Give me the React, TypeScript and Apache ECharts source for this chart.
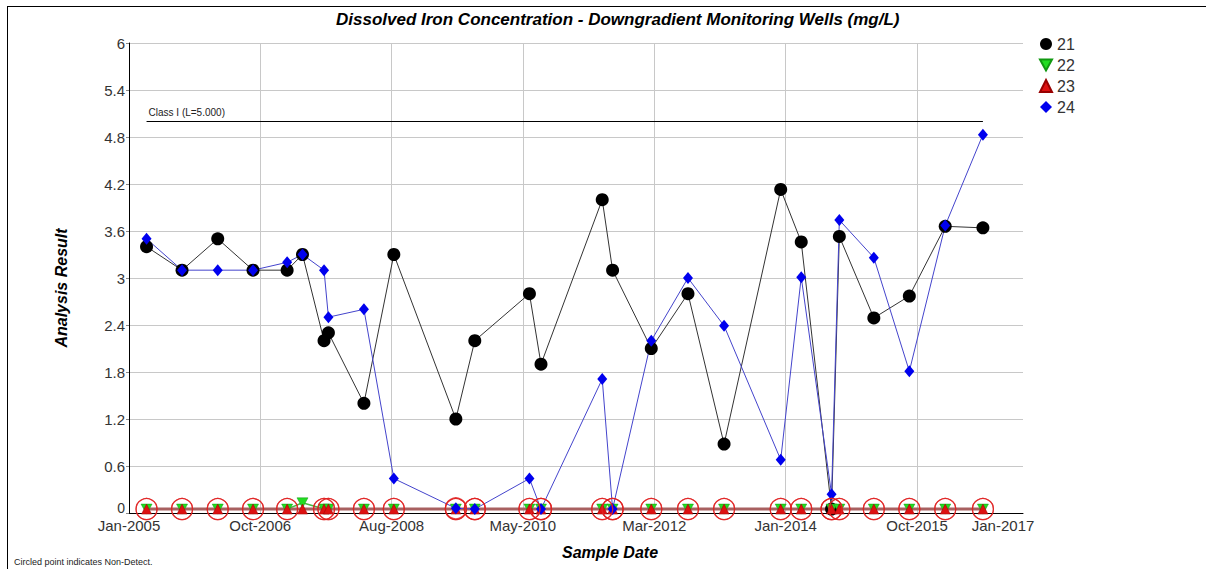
import React, { useEffect, useRef } from "react";
import * as echarts from "echarts";

// ---- data ----
const sampleDates = [
  "2005-03-30", "2005-09-24", "2006-03-22", "2006-09-15", "2007-03-05", "2007-05-21",
  "2007-09-06", "2007-09-28", "2008-03-24", "2008-08-21", "2009-06-28", "2009-10-01",
  "2010-07-02", "2010-08-29", "2011-07-02", "2011-08-23", "2012-03-04", "2012-09-04",
  "2013-03-04", "2013-12-13", "2014-03-26", "2014-08-25", "2014-10-03", "2015-03-25",
  "2015-09-19", "2016-03-17", "2016-09-22",
];

const well21 = [3.4, 3.1, 3.5, 3.1, 3.1, 3.3, 2.2, 2.3, 1.4, 3.3, 1.2, 2.2, 2.8, 1.9, 4.0, 3.1, 2.1, 2.8, 0.88, 4.13, 3.46, 0.05, 3.53, 2.49, 2.77, 3.66, 3.64];
const nd21 = [0, 0, 0, 0, 0, 0, 0, 0, 0, 0, 0, 0, 0, 0, 0, 0, 0, 0, 0, 0, 0, 1, 0, 0, 0, 0, 0];

const well22 = [0.05, 0.05, 0.05, 0.05, 0.05, 0.13, 0.05, 0.05, 0.05, 0.05, 0.05, 0.05, 0.05, 0.05, 0.05, 0.05, 0.05, 0.05, 0.05, 0.05, 0.05, 0.05, 0.05, 0.05, 0.05, 0.05, 0.05];
const nd22 = [1, 1, 1, 1, 1, 0, 1, 1, 1, 1, 1, 1, 1, 1, 1, 1, 1, 1, 1, 1, 1, 1, 1, 1, 1, 1, 1];

const well23 = [0.05, 0.05, 0.05, 0.05, 0.05, 0.05, 0.05, 0.05, 0.05, 0.05, 0.05, 0.05, 0.05, 0.05, 0.05, 0.05, 0.05, 0.05, 0.05, 0.05, 0.05, 0.05, 0.05, 0.05, 0.05, 0.05, 0.05];
const nd23 = [1, 1, 1, 1, 1, 0, 1, 1, 1, 1, 1, 1, 1, 1, 1, 1, 1, 1, 1, 1, 1, 1, 1, 1, 1, 1, 1];

const well24 = [3.5, 3.1, 3.1, 3.1, 3.2, 3.3, 3.1, 2.5, 2.6, 0.44, 0.06, 0.05, 0.44, 0.05, 1.71, 0.05, 2.2, 3.0, 2.39, 0.68, 3.01, 0.24, 3.74, 3.26, 1.81, 3.67, 4.83];
const nd24 = [0, 0, 0, 0, 0, 0, 0, 0, 0, 0, 1, 1, 0, 1, 0, 1, 0, 0, 0, 0, 0, 0, 0, 0, 0, 0, 0];

const classLimit = 5.0;
const classLabel = "Class I (L=5.000)";

const axisStart = "2005-01-01";
const axisEnd = "2017-04-11";
const gridTickDates = ["2006-10-21", "2008-08-10", "2010-05-30", "2012-03-19", "2014-01-07", "2015-10-28"];
const labelDates = ["2005-01-01", "2006-10-21", "2008-08-10", "2010-05-30", "2012-03-19", "2014-01-07", "2015-10-28", "2017-01-01"];
const monthNames = ["Jan", "Feb", "Mar", "Apr", "May", "Jun", "Jul", "Aug", "Sep", "Oct", "Nov", "Dec"];

const FONT = "Arial, 'Liberation Sans', sans-serif";
const DOWN_TRI = "path://M0,0L10,0L5,9Z";

const t = (s: string) => Date.parse(s + "T00:00:00Z");

export default function App() {
  const ref = useRef<HTMLDivElement>(null);

  useEffect(() => {
    if (!ref.current) return;
    const chart = echarts.init(ref.current, null, { renderer: "svg" });

    const toPairs = (vals: number[]) => sampleDates.map((d, i) => [t(d), vals[i]]);
    const ndPoints: number[][] = [];
    const addNd = (vals: number[], flags: number[]) => {
      sampleDates.forEach((d, i) => {
        if (flags[i]) ndPoints.push([t(d), vals[i]]);
      });
    };
    addNd(well21, nd21);
    addNd(well22, nd22);
    addNd(well23, nd23);
    addNd(well24, nd24);

    const option: any = {
      animation: false,
      backgroundColor: "#fff",
      title: [
        {
          text: "Dissolved Iron Concentration - Downgradient Monitoring Wells (mg/L)",
          left: 336,
          top: 11,
          padding: 0,
          textStyle: { fontFamily: FONT, fontSize: 17, fontWeight: "bold", fontStyle: "italic", color: "#000" },
        },
        {
          text: "Circled point indicates Non-Detect.",
          left: 9,
          top: 552,
          textStyle: { fontFamily: FONT, fontSize: 9, fontWeight: "normal", color: "#222" },
        },
      ],
      legend: {
        orient: "vertical",
        left: 1034,
        top: 31,
        itemWidth: 12,
        itemHeight: 12,
        itemGap: 5,
        textStyle: { fontFamily: FONT, fontSize: 16, color: "#333" },
        data: [
          { name: "21", icon: "circle" },
          { name: "22", icon: DOWN_TRI },
          { name: "23", icon: "triangle" },
          { name: "24", icon: "diamond" },
        ],
      },
      grid: { left: 129, right: 183, top: 43, bottom: 56 },
      xAxis: {
        type: "value",
        min: t(axisStart),
        max: t(axisEnd),
        name: "Sample Date",
        nameLocation: "middle",
        nameGap: 31,
        nameTextStyle: {
          fontFamily: FONT, fontSize: 16, fontWeight: "bold", fontStyle: "italic", color: "#000",
          padding: [0, 0, 0, 68],
        },
        axisLine: { show: true, lineStyle: { color: "#000", width: 1 } },
        axisTick: { show: false, customValues: gridTickDates.map(t) },
        axisLabel: {
          customValues: labelDates.map(t),
          fontFamily: FONT,
          fontSize: 15,
          color: "#333",
          margin: 5,
          formatter: (v: number) => {
            const d = new Date(v);
            return monthNames[d.getUTCMonth()] + "-" + d.getUTCFullYear();
          },
        },
        splitLine: { show: true, lineStyle: { color: "#c8c8c8", width: 1 } },
      },
      yAxis: {
        type: "value",
        min: 0,
        max: 6,
        interval: 0.6,
        name: "Analysis Result",
        nameLocation: "middle",
        nameGap: 60,
        nameRotate: 90,
        nameTextStyle: {
          fontFamily: FONT, fontSize: 16, fontWeight: "bold", fontStyle: "italic", color: "#000",
          padding: [0, 20, 0, 0],
        },
        axisLine: { show: true, lineStyle: { color: "#000", width: 1 } },
        axisTick: { show: true, length: 3, lineStyle: { color: "#888" } },
        axisLabel: {
          fontFamily: FONT,
          fontSize: 15,
          color: "#333",
          margin: 4,
          formatter: (v: number) => (v === 0 ? "{z|0}" : String(+v.toFixed(1))),
          rich: { z: { fontFamily: FONT, fontSize: 14, color: "#333", lineHeight: 14, padding: [0, 0, 10, 0] } },
        },
        splitLine: { show: true, lineStyle: { color: "#c8c8c8", width: 1 } },
      },
      series: [
        {
          name: "21",
          type: "line",
          data: toPairs(well21),
          symbol: "circle",
          symbolSize: 13,
          itemStyle: { color: "#000" },
          lineStyle: { color: "#333", width: 1 },
          z: 3,
          markLine: {
            silent: true,
            symbol: ["none", "none"],
            lineStyle: { color: "#000", width: 1, type: "solid" },
            label: {
              show: true,
              position: "insideStartTop",
              formatter: classLabel,
              fontFamily: FONT,
              fontSize: 10,
              color: "#222",
              distance: [2, 4],
            },
            data: [[
              { coord: [t(sampleDates[0]), classLimit] },
              { coord: [t(sampleDates[sampleDates.length - 1]), classLimit] },
            ]],
          },
        },
        {
          name: "22",
          type: "line",
          data: toPairs(well22),
          symbol: DOWN_TRI,
          symbolSize: [11, 10],
          itemStyle: { color: "#22dd22", borderColor: "#119911", borderWidth: 0.5 },
          lineStyle: { color: "#44bb44", width: 1.5 },
          z: 3,
        },
        {
          name: "23",
          type: "line",
          data: toPairs(well23),
          symbol: "triangle",
          symbolSize: [10, 10],
          itemStyle: { color: "#dd1111", borderColor: "#990000", borderWidth: 0.5 },
          lineStyle: { color: "#a86060", width: 3 },
          z: 3,
        },
        {
          name: "24",
          type: "line",
          data: toPairs(well24),
          symbol: "diamond",
          symbolSize: [10, 12],
          itemStyle: { color: "#0000ee" },
          lineStyle: { color: "#4444cc", width: 1 },
          z: 3,
        },
        {
          name: "Non-Detect",
          type: "scatter",
          data: ndPoints,
          symbol: "circle",
          symbolSize: 21,
          itemStyle: { color: "rgba(0,0,0,0)", borderColor: "#e02020", borderWidth: 1.2 },
          silent: true,
          z: 4,
        },
      ],
    };

    chart.setOption(option);
    return () => chart.dispose();
  }, []);

  return (
    <div style={{ position: "fixed", left: 0, top: 0, width: 1206, height: 569, background: "#fff", overflow: "hidden" }}>
      <div ref={ref} style={{ position: "absolute", left: 0, top: 0, width: 1206, height: 569 }} />
      <div
        style={{
          position: "absolute", left: 7, top: 6, width: 1180, height: 550,
          borderLeft: "1px solid #000", borderTop: "1px solid #000", boxSizing: "border-box",
          pointerEvents: "none",
        }}
      />
      <div
        style={{
          position: "absolute", left: 1186, top: 6, width: 20, height: 1,
          background: "#000", pointerEvents: "none",
        }}
      />
      <div
        style={{
          position: "absolute", left: 7, top: 555, width: 1, height: 14,
          background: "#000", pointerEvents: "none",
        }}
      />
    </div>
  );
}
